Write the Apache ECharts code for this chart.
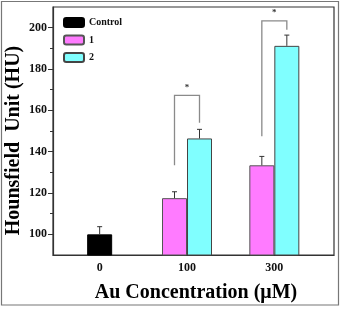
<!DOCTYPE html>
<html><head><meta charset="utf-8">
<script src="https://cdn.jsdelivr.net/npm/echarts@6/dist/echarts.min.js"></script>
<style>html,body{margin:0;padding:0;background:#fff}#c{width:343px;height:309px}</style>
</head><body><div id="c"></div>
<script>
const categories = ['0', '100', '300'];
const controlValues = [100, null, null];
const controlErr = [3.7, null, null];
const series1Values = [null, 117.5, 133.4];
const series1Err = [null, 3.1, 4.3];
const series2Values = [null, 146.4, 191.2];
const series2Err = [null, 4.4, 5.2];
const yMajorTicks = [100, 120, 140, 160, 180, 200];
const yMinorTicks = [110, 130, 150, 170, 190];
// significance brackets: [categoryIndex, leftBottom, top, rightBottom, label]
const brackets = [[1, 133.4, 167.2, 154.0, '*'], [2, 147.4, 203.3, 199.0, '*']];

const FONT = '"Liberation Serif", "Times New Roman", serif';
const BAR_W = 25;
const chart = echarts.init(document.getElementById('c'), null, {renderer: 'canvas'});

function errData(vals, errs) {
  const out = [];
  vals.forEach((v, i) => { if (v != null) out.push([i, v, v + errs[i]]); });
  return out;
}
function errRender(offset) {
  return function (params, api) {
    const i = api.value(0);
    const base = api.coord([i, api.value(1)]);
    const top = api.coord([i, api.value(2)]);
    const x = base[0] + offset;
    return {
      type: 'group',
      children: [
        {type: 'line', shape: {x1: x, y1: base[1], x2: x, y2: top[1]}, style: {stroke: '#333', lineWidth: 1}},
        {type: 'line', shape: {x1: x - 2.5, y1: top[1], x2: x + 2.5, y2: top[1]}, style: {stroke: '#333', lineWidth: 1}}
      ]
    };
  };
}

const option = {
  animation: false,
  backgroundColor: '#fff',
  grid: [
    {left: 53, right: 9, top: 7, bottom: 54, show: true, borderColor: '#333', borderWidth: 1.2, backgroundColor: 'transparent'},
    {left: 56, width: 262, top: 7, bottom: 54}
  ],
  legend: {
    orient: 'vertical', left: 63, top: 17, padding: 0, itemWidth: 20, itemHeight: 9, itemGap: 6.5,
    textStyle: {fontFamily: FONT, fontWeight: 'bold', fontSize: 10, color: '#111'},
    data: ['Control', '1', '2'], selectedMode: false
  },
  xAxis: [
    {gridIndex: 0, type: 'category', data: categories, axisLine: {show: true, lineStyle: {color: '#333', width: 1.2}},
     axisTick: {show: false}, axisLabel: {show: false}, splitLine: {show: false}},
    {gridIndex: 1, type: 'category', data: categories, axisLine: {show: false}, axisTick: {show: false},
     axisLabel: {show: true, margin: 7, fontFamily: FONT, fontWeight: 'bold', fontSize: 12, color: '#111'}},
    {gridIndex: 1, type: 'category', data: categories, show: false}
  ],
  yAxis: [
    {gridIndex: 0, type: 'value', min: 90, max: 210,
     axisLine: {show: true, lineStyle: {color: '#333', width: 1.2}},
     axisTick: {show: true, length: 5, customValues: yMajorTicks, lineStyle: {color: '#333'}},
     axisLabel: {show: true, customValues: yMajorTicks, margin: 6, fontFamily: FONT, fontWeight: 'bold', fontSize: 12, color: '#111'},
     splitLine: {show: false}},
    {gridIndex: 0, type: 'value', min: 90, max: 210, position: 'left',
     axisLine: {show: false},
     axisTick: {show: true, length: 3, customValues: yMinorTicks, lineStyle: {color: '#333'}},
     axisLabel: {show: false}, splitLine: {show: false}},
    {gridIndex: 1, type: 'value', min: 90, max: 210, show: false}
  ],
  series: [
    {name: 'Control', type: 'bar', xAxisIndex: 1, yAxisIndex: 2, barWidth: BAR_W, data: controlValues,
     itemStyle: {color: '#000', borderColor: '#000', borderWidth: 1}},
    {name: '1', type: 'bar', xAxisIndex: 2, yAxisIndex: 2, barWidth: BAR_W, barGap: '0%', data: series1Values,
     itemStyle: {color: '#FF7BFF', borderColor: '#555', borderWidth: 1}},
    {name: '2', type: 'bar', xAxisIndex: 2, yAxisIndex: 2, barWidth: BAR_W, barGap: '0%', data: series2Values,
     itemStyle: {color: '#80FFFF', borderColor: '#444', borderWidth: 1}},
    {type: 'custom', xAxisIndex: 1, yAxisIndex: 2, data: errData(controlValues, controlErr), renderItem: errRender(0), z: 5},
    {type: 'custom', xAxisIndex: 2, yAxisIndex: 2, data: errData(series1Values, series1Err), renderItem: errRender(-BAR_W / 2), z: 5},
    {type: 'custom', xAxisIndex: 2, yAxisIndex: 2, data: errData(series2Values, series2Err), renderItem: errRender(BAR_W / 2), z: 5},
    {type: 'custom', xAxisIndex: 2, yAxisIndex: 2, data: brackets, z: 5,
     renderItem: function (params, api) {
       const i = api.value(0);
       const lb = api.coord([i, api.value(1)]);
       const tp = api.coord([i, api.value(2)]);
       const rb = api.coord([i, api.value(3)]);
       const xl = lb[0] - BAR_W / 2, xr = lb[0] + BAR_W / 2;
       const st = {stroke: '#8a8a8a', lineWidth: 1.3, fill: null};
       return {type: 'group', children: [
         {type: 'polyline', shape: {points: [[xl, lb[1]], [xl, tp[1]], [xr, tp[1]], [xr, rb[1]]]}, style: st},
         {type: 'text', style: {text: brackets[params.dataIndex][4], x: lb[0], y: tp[1] - 8, align: 'center', verticalAlign: 'middle',
           font: 'bold 9px ' + FONT, fill: '#333'}}
       ]};
     }}
  ],
  graphic: [
    {type: 'rect', shape: {x: 1.5, y: 1.5, width: 337, height: 303.5}, style: {fill: null, stroke: '#777', lineWidth: 1.2}, silent: true},
    {type: 'text', x: 14, y: 140.5, rotation: Math.PI / 2,
     style: {text: 'Hounsfield  Unit (HU)', font: 'bold 20px ' + FONT, fill: '#000', align: 'center', verticalAlign: 'middle'}},
    {type: 'text', x: 196, y: 293,
     style: {text: 'Au Concentration (μM)', font: 'bold 20px ' + FONT, fill: '#000', align: 'center', verticalAlign: 'middle'}}
  ]
};
chart.setOption(option);
</script></body></html>
